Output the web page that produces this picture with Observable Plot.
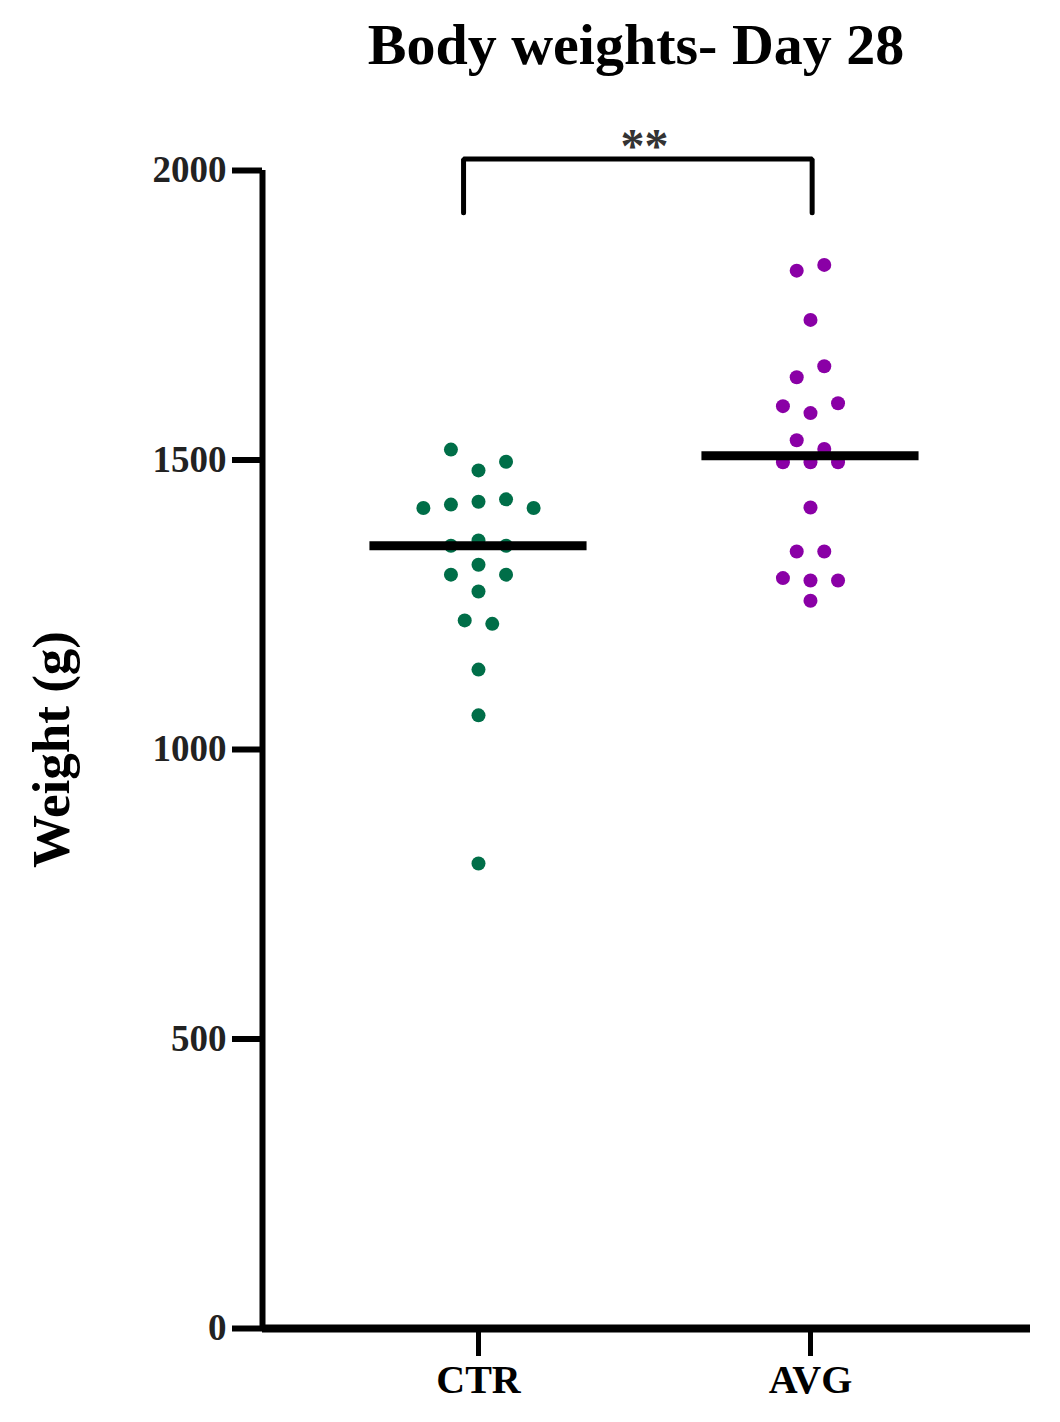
<!DOCTYPE html>
<html>
<head>
<meta charset="utf-8">
<script src="https://cdn.jsdelivr.net/npm/d3@7"></script>
<script src="https://cdn.jsdelivr.net/npm/@observablehq/plot@0.6"></script>
<style>
  html, body { margin: 0; padding: 0; background: #fff; }
  #title {
    width: 1060px; height: 100px; box-sizing: border-box;
    padding-top: 12px; padding-left: 212px;
    text-align: center; font-family: "Liberation Serif", "Times New Roman", serif;
    font-weight: bold; font-size: 58px; line-height: 1.15; color: #000;
  }
  #chart svg g[aria-label="y-axis tick label"] text { fill: #222; }
</style>
</head>
<body>
<div id="title">Body weights- Day 28</div>
<div id="chart"></div>
<script>
// ---- data ----
const groups = ["CTR", "AVG"];
const ctrWeights = [1518, 1482, 1497, 1417, 1423, 1428, 1432, 1417, 1352, 1361, 1352,
                    1302, 1319, 1302, 1273, 1223, 1217, 1138, 1059, 803];
const avgWeights = [1827, 1837, 1742, 1643, 1662, 1593, 1581, 1598, 1534, 1519,
                    1496, 1496, 1496, 1418, 1342, 1342, 1296, 1292, 1292, 1257];
const yTicks = [0, 500, 1000, 1500, 2000];
const groupColors = ["#006e48", "#8a00a6"];
const comparisons = [{from: "CTR", to: "AVG", label: "**"}];

// ---- layout helpers (GraphPad-like scatter rows) ----
const ROW_GAP = 37;      // grams: values closer than this share a row
const STEP = 0.083;      // horizontal spacing between dots (x units)
function scatter(values, gi, group) {
  const order = values.map((v, i) => i).sort((a, b) => values[b] - values[a]);
  const rows = [];
  let cur = null;
  for (const i of order) {
    if (cur && values[cur.start] - values[i] < ROW_GAP) cur.items.push(i);
    else { cur = {start: i, items: [i]}; rows.push(cur); }
  }
  const out = [];
  for (const row of rows) {
    const items = row.items.slice().sort((a, b) => a - b);
    const n = items.length;
    items.forEach((i, k) => out.push({group, value: values[i], xpos: gi + (k - (n - 1) / 2) * STEP}));
  }
  return out;
}
const seriesValues = [ctrWeights, avgWeights];
const points = groups.flatMap((g, gi) => scatter(seriesValues[gi], gi, g));
const medians = groups.map((g, gi) => ({group: g, i: gi, median: d3.median(seriesValues[gi])}));

const xMin = -0.6506, xMax = 1.6627;
const bracketTop = 2020, bracketDrop = 93;
const bracketPts = comparisons.flatMap(c => {
  const a = groups.indexOf(c.from) - 0.045, b = groups.indexOf(c.to) + 0.005;
  return [{x: a, y: bracketTop - bracketDrop}, {x: a, y: bracketTop}, {x: b, y: bracketTop}, {x: b, y: bracketTop - bracketDrop}];
});

const chart = Plot.plot({
  width: 1060,
  height: 1322,
  marginLeft: 262,
  marginRight: 30,
  marginTop: 70,
  marginBottom: 94,
  style: {fontFamily: "'Liberation Serif', 'Times New Roman', serif", fontWeight: "bold", background: "#fff", overflow: "visible"},
  x: {type: "linear", domain: [xMin, xMax], axis: null},
  y: {domain: [0, 2000], axis: null},
  color: {domain: groups, range: groupColors},
  marks: [
    Plot.axisY({ticks: yTicks, tickSize: 30, tickPadding: 6, strokeWidth: 6, fontSize: 37, fontWeight: "bold", tickFormat: d => String(d), label: null}),
    Plot.axisX({ticks: [0, 1], tickSize: 28, tickPadding: 8, strokeWidth: 5, fontSize: 40, fontWeight: "bold", tickFormat: d => groups[d], label: null}),
    Plot.ruleX([xMin], {y1: 0, y2: 2000, strokeWidth: 6, stroke: "#000"}),
    Plot.ruleY([0], {x1: xMin, x2: xMax, strokeWidth: 8, stroke: "#000"}),
    Plot.dot(points, {x: "xpos", y: "value", r: 7, fill: "group", stroke: null}),
    Plot.ruleY(medians, {y: "median", x1: d => d.i - 0.327, x2: d => d.i + 0.327, strokeWidth: 9, stroke: "#000"}),
    Plot.line(bracketPts, {x: "x", y: "y", strokeWidth: 5, stroke: "#000", strokeLinejoin: "miter"}),
    Plot.text(comparisons, {x: d => (groups.indexOf(d.from) + groups.indexOf(d.to)) / 2, y: bracketTop, text: "label", fontSize: 48, fontWeight: "bold", fill: "#333", dy: -12}),
    Plot.text(["Weight (g)"], {frameAnchor: "left", textAnchor: "middle", lineAnchor: "middle", text: d => d, rotate: -90, dx: -210, fontSize: 53, fontWeight: "bold", fill: "#000"})
  ]
});
document.getElementById("chart").appendChild(chart);
</script>
</body>
</html>
